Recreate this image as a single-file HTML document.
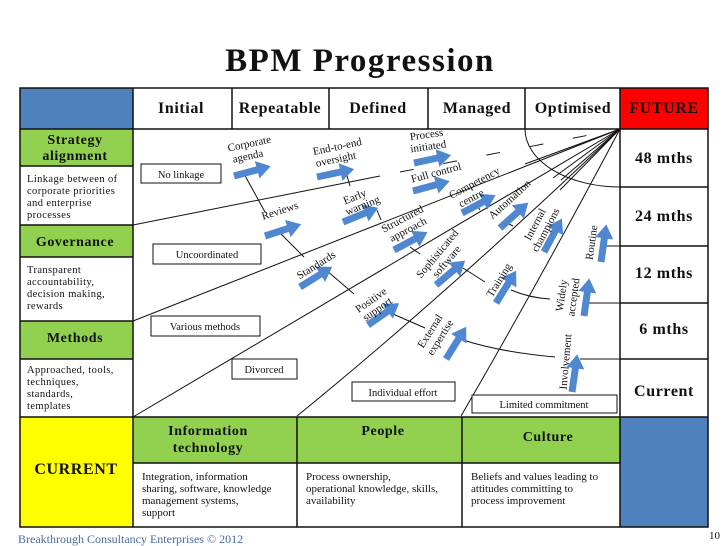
<!DOCTYPE html>
<html><head><meta charset="utf-8"><style>
body{margin:0;background:#fff;}
svg{display:block;}
text{font-family:"Liberation Serif",serif;fill:#111;}
.b{font-weight:bold;}
</style></head><body>
<svg width="728" height="546" viewBox="0 0 728 546" xmlns="http://www.w3.org/2000/svg">
<defs>
<polygon id="ar" points="0,-3.5 24,-3.5 24,-9 38,0 24,9 24,3.5 0,3.5" fill="#4f88d0"/>
</defs>
<text x="360" y="71" text-anchor="middle" class="b" font-size="33" letter-spacing="1.5">BPM Progression</text>

<rect x="20" y="88" width="113" height="41" fill="#4f81bd"/>
<rect x="20" y="129" width="113" height="37" fill="#92d050"/>
<rect x="20" y="225" width="113" height="32" fill="#92d050"/>
<rect x="20" y="321" width="113" height="38" fill="#92d050"/>
<rect x="20" y="417" width="113" height="110" fill="#ffff00"/>
<rect x="620" y="88" width="88" height="41" fill="#ff0000"/>
<rect x="620" y="417" width="88" height="110" fill="#4f81bd"/>
<rect x="133" y="417" width="487" height="46" fill="#92d050"/>

<g stroke="#111" stroke-width="1.5" fill="none">
<rect x="20" y="88" width="688" height="439"/>
<line x1="133" y1="88" x2="133" y2="527"/>
<line x1="620" y1="88" x2="620" y2="527"/>
<line x1="133" y1="129" x2="620" y2="129"/>
<line x1="20" y1="129" x2="133" y2="129"/><line x1="20" y1="166" x2="133" y2="166"/>
<line x1="20" y1="225" x2="133" y2="225"/><line x1="20" y1="257" x2="133" y2="257"/>
<line x1="20" y1="321" x2="133" y2="321"/><line x1="20" y1="359" x2="133" y2="359"/>
<line x1="20" y1="417" x2="708" y2="417"/>
<line x1="232" y1="88" x2="232" y2="129"/><line x1="329" y1="88" x2="329" y2="129"/>
<line x1="428" y1="88" x2="428" y2="129"/><line x1="525" y1="88" x2="525" y2="129"/>
<line x1="620" y1="129" x2="708" y2="129"/><line x1="620" y1="187" x2="708" y2="187"/>
<line x1="620" y1="246" x2="708" y2="246"/><line x1="620" y1="303" x2="708" y2="303"/>
<line x1="620" y1="359" x2="708" y2="359"/>
<line x1="133" y1="463" x2="620" y2="463"/>
<line x1="297" y1="417" x2="297" y2="527"/><line x1="462" y1="417" x2="462" y2="527"/>
</g>

<g stroke="#111" stroke-width="1" fill="none">
<line x1="133" y1="225" x2="380" y2="176"/>
<line x1="400" y1="172" x2="620" y2="129" stroke-dasharray="14,30"/>
<line x1="133" y1="321" x2="620" y2="129"/>
<line x1="133" y1="417" x2="620" y2="129"/>
<path d="M297,416 Q440,300 620,129"/>
<path d="M461,416 Q540,280 620,129"/>
<line x1="525" y1="164" x2="620" y2="129"/>
<line x1="553" y1="178" x2="620" y2="129"/>
<line x1="561" y1="180" x2="620" y2="129"/>
<line x1="560" y1="190" x2="620" y2="129"/>
<path d="M525,129 A95,58 0 0 0 620,187"/>
<line x1="606" y1="246" x2="620" y2="246"/>
<line x1="586" y1="303" x2="620" y2="303"/>
<line x1="580" y1="359" x2="620" y2="359"/>
<line x1="243" y1="172" x2="265" y2="212"/>
<line x1="280" y1="233" x2="304" y2="257"/>
<line x1="326" y1="270" x2="354" y2="294"/>
<line x1="346" y1="172" x2="350" y2="186"/>
<line x1="377" y1="210" x2="381" y2="220"/>
<line x1="410" y1="247" x2="420" y2="254"/>
<line x1="463" y1="268" x2="485" y2="282"/>
<line x1="393" y1="314" x2="425" y2="328"/>
<path d="M511,290 Q530,298 550,299"/>
<path d="M463,340 Q500,352 555,357"/>
<line x1="476" y1="204" x2="480" y2="210"/>
<line x1="503" y1="221" x2="513" y2="226"/>
</g>

<use href="#ar" transform="translate(234,176) rotate(-15)"/>
<use href="#ar" transform="translate(317,177) rotate(-12)"/>
<use href="#ar" transform="translate(414,163) rotate(-12)"/>
<use href="#ar" transform="translate(413,191) rotate(-15)"/>
<use href="#ar" transform="translate(265,236) rotate(-18)"/>
<use href="#ar" transform="translate(343,222) rotate(-22)"/>
<use href="#ar" transform="translate(462,213) rotate(-28)"/>
<use href="#ar" transform="translate(394,250) rotate(-28)"/>
<use href="#ar" transform="translate(500,228) rotate(-42)"/>
<use href="#ar" transform="translate(300,287) rotate(-32)"/>
<use href="#ar" transform="translate(436,285) rotate(-40)"/>
<use href="#ar" transform="translate(544,252) rotate(-62)"/>
<use href="#ar" transform="translate(601,262) rotate(-82)"/>
<use href="#ar" transform="translate(368,325) rotate(-35)"/>
<use href="#ar" transform="translate(496,303) rotate(-58)"/>
<use href="#ar" transform="translate(584,316) rotate(-82)"/>
<use href="#ar" transform="translate(446,359) rotate(-58)"/>
<use href="#ar" transform="translate(572,392) rotate(-82)"/>

<g font-size="11" text-anchor="middle">
<text transform="translate(250,147) rotate(-12)"><tspan x="0" y="0">Corporate</tspan><tspan x="-4" y="12">agenda</tspan></text>
<text transform="translate(338,150) rotate(-12)"><tspan x="0" y="0">End-to-end</tspan><tspan x="-4" y="12">oversight</tspan></text>
<text transform="translate(427,138) rotate(-8)"><tspan x="0" y="0">Process</tspan><tspan x="0" y="12">initiated</tspan></text>
<text transform="translate(437,176) rotate(-15)">Full control</text>
<text transform="translate(281,214) rotate(-18)">Reviews</text>
<text transform="translate(356,200) rotate(-22)"><tspan x="0" y="0">Early</tspan><tspan x="4" y="11">warning</tspan></text>
<text transform="translate(476,186) rotate(-28)"><tspan x="0" y="0">Competency</tspan><tspan x="-10" y="12">centre</tspan></text>
<text transform="translate(404,222) rotate(-28)"><tspan x="0" y="0">Structured</tspan><tspan x="0" y="12">approach</tspan></text>
<text transform="translate(512,202) rotate(-42)">Automation</text>
<text transform="translate(318,268) rotate(-32)">Standards</text>
<text transform="translate(440,256) rotate(-50)"><tspan x="0" y="0">Sophisticated</tspan><tspan x="0" y="12">software</tspan></text>
<text transform="translate(538,226) rotate(-62)"><tspan x="0" y="0">Internal</tspan><tspan x="0" y="12">champions</tspan></text>
<text transform="translate(595,243) rotate(-82)">Routine</text>
<text transform="translate(373,303) rotate(-35)"><tspan x="0" y="0">Positive</tspan><tspan x="0" y="11">support</tspan></text>
<text transform="translate(502,282) rotate(-58)">Training</text>
<text transform="translate(565,296) rotate(-82)"><tspan x="0" y="0">Widely</tspan><tspan x="0" y="12">accepted</tspan></text>
<text transform="translate(433,333) rotate(-58)"><tspan x="0" y="0">External</tspan><tspan x="0" y="12">expertise</tspan></text>
<text transform="translate(569,362) rotate(-85)">Involvement</text>
</g>

<g stroke="#111" stroke-width="1" fill="#fff">
<rect x="141" y="164" width="80" height="19"/>
<rect x="153" y="244" width="108" height="20"/>
<rect x="151" y="316" width="109" height="20"/>
<rect x="232" y="359" width="65" height="20"/>
<rect x="352" y="382" width="103" height="19"/>
<rect x="472" y="395" width="145" height="18"/>
</g>
<g font-size="10.5" text-anchor="middle">
<text x="181" y="178">No linkage</text>
<text x="207" y="258">Uncoordinated</text>
<text x="205" y="330">Various methods</text>
<text x="264" y="373">Divorced</text>
<text x="403" y="396">Individual effort</text>
<text x="544" y="408">Limited commitment</text>
</g>

<g class="b" font-size="16" text-anchor="middle" letter-spacing="0.6">
<text x="181" y="113">Initial</text>
<text x="280" y="113">Repeatable</text>
<text x="378" y="113">Defined</text>
<text x="477" y="113">Managed</text>
<text x="573" y="113">Optimised</text>
<text x="664" y="113">FUTURE</text>
<text x="664" y="163">48 mths</text>
<text x="664" y="221">24 mths</text>
<text x="664" y="278">12 mths</text>
<text x="664" y="334">6 mths</text>
<text x="664" y="396">Current</text>
<text x="76" y="474">CURRENT</text>
</g>
<g class="b" font-size="14" text-anchor="middle" letter-spacing="0.6">
<text x="75" y="144">Strategy</text>
<text x="75" y="160">alignment</text>
<text x="75" y="246">Governance</text>
<text x="75" y="342">Methods</text>
<text x="208" y="435">Information</text>
<text x="208" y="452">technology</text>
<text x="383" y="435">People</text>
<text x="548" y="441">Culture</text>
</g>
<g font-size="10.5" letter-spacing="0.4">
<text x="27" y="182">Linkage between of</text>
<text x="27" y="194">corporate priorities</text>
<text x="27" y="206">and enterprise</text>
<text x="27" y="218">processes</text>
<text x="27" y="273">Transparent</text>
<text x="27" y="285">accountability,</text>
<text x="27" y="297">decision making,</text>
<text x="27" y="309">rewards</text>
<text x="27" y="373">Approached, tools,</text>
<text x="27" y="385">techniques,</text>
<text x="27" y="397">standards,</text>
<text x="27" y="409">templates</text>
</g>
<g font-size="11">
<text x="142" y="480">Integration, information</text>
<text x="142" y="492">sharing, software,  knowledge</text>
<text x="142" y="504">management systems,</text>
<text x="142" y="516">support</text>
<text x="306" y="480">Process ownership,</text>
<text x="306" y="492">operational knowledge, skills,</text>
<text x="306" y="504">availability</text>
<text x="471" y="480">Beliefs and values leading to</text>
<text x="471" y="492">attitudes committing to</text>
<text x="471" y="504">process improvement</text>
</g>
<text x="18" y="543" font-size="12" style="fill:#4a6a9a">Breakthrough Consultancy Enterprises © 2012</text>
<text x="720" y="539" font-size="11" text-anchor="end">10</text>
</svg>
</body></html>
